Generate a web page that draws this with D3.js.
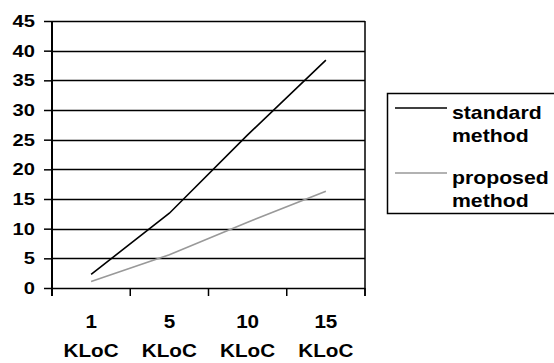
<!DOCTYPE html>
<html>
<head>
<meta charset="utf-8">
<script src="https://cdn.jsdelivr.net/npm/d3@7"></script>
<style>
  html, body { margin: 0; padding: 0; background: #fff; }
  svg { display: block; }
  text { font-family: "Liberation Sans", Arial, sans-serif; font-weight: bold; fill: #000; }
</style>
</head>
<body>
<svg id="chart" width="554" height="363"></svg>
<script>
// Data
const categories = ["1 KLoC", "5 KLoC", "10 KLoC", "15 KLoC"];
const standardMethod = [2.3, 12.6, 25.8, 38.4];
const proposedMethod = [1.1, 5.6, 11.1, 16.3];
const yTicks = [0, 5, 10, 15, 20, 25, 30, 35, 40, 45];
const seriesNames = ["standard method", "proposed method"];
const seriesColors = ["#000000", "#999999"];

const svg = d3.select("#chart");
const plot = { left: 52, right: 365, top: 21, bottom: 288 };
const stretch = 1.2; // wide glyphs

const x = d3.scaleBand().domain(categories).range([plot.left, plot.right]).padding(0);
const y = d3.scaleLinear().domain([0, 45]).range([plot.bottom, plot.top]);

// helper: horizontally stretched text
function label(g, tx, ty, str, size, anchor, sx = stretch) {
  return g.append("text")
    .attr("transform", `translate(${tx},${ty}) scale(${sx},1)`)
    .attr("text-anchor", anchor)
    .style("font-size", size + "px")
    .text(str);
}

// Horizontal gridlines
svg.append("g").selectAll("line").data(yTicks).join("line")
  .attr("x1", plot.left).attr("x2", plot.right)
  .attr("y1", d => Math.round(y(d)) + 0.5).attr("y2", d => Math.round(y(d)) + 0.5)
  .attr("stroke", "#000").attr("stroke-width", 1.5);

// Right border of plot area
svg.append("line")
  .attr("x1", plot.right).attr("x2", plot.right)
  .attr("y1", plot.top).attr("y2", plot.bottom + 8)
  .attr("stroke", "#000").attr("stroke-width", 1.5);

// Y axis
const yAxis = d3.axisLeft(y).tickValues(yTicks).tickSize(8).tickFormat("");
const yg = svg.append("g").attr("transform", `translate(${plot.left},0)`).call(yAxis);
yg.select(".domain").remove();
yg.selectAll(".tick line").attr("stroke", "#000").attr("stroke-width", 1.5);
svg.append("line")
  .attr("x1", plot.left).attr("x2", plot.left)
  .attr("y1", plot.top).attr("y2", plot.bottom + 8)
  .attr("stroke", "#000").attr("stroke-width", 2);

const ylab = svg.append("g");
yTicks.forEach(t => label(ylab, 35, y(t) + 6, String(t), 16.5, "end", 1.22));

// X axis tick marks at category boundaries
const xBounds = categories.map(c => x(c)).concat([plot.right]);
svg.append("g").selectAll("line").data(xBounds).join("line")
  .attr("x1", d => d).attr("x2", d => d)
  .attr("y1", plot.bottom).attr("y2", plot.bottom + 8)
  .attr("stroke", "#000").attr("stroke-width", 1.5);

// X labels (two lines)
const xlab = svg.append("g");
categories.forEach(c => {
  const cx = x(c) + x.bandwidth() / 2;
  const parts = c.split(" ");
  label(xlab, cx, 327.5, parts[0], 17.5, "middle", 1.18);
  label(xlab, cx, 356.5, parts[1], 17.5, "middle", 1.18);
});

// Series lines
const line = d3.line()
  .x((d, i) => x(categories[i]) + x.bandwidth() / 2)
  .y(d => y(d));

[proposedMethod, standardMethod].forEach((vals, k) => {
  svg.append("path")
    .datum(vals)
    .attr("fill", "none")
    .attr("stroke", k === 0 ? seriesColors[1] : seriesColors[0])
    .attr("stroke-width", 1.6)
    .attr("d", line);
});

// Legend
const lg = svg.append("g");
lg.append("rect")
  .attr("x", 387.5).attr("y", 93.5).attr("width", 180).attr("height", 120)
  .attr("fill", "#fff").attr("stroke", "#000").attr("stroke-width", 1.5);

const entryY = [108, 173];
seriesNames.forEach((name, i) => {
  lg.append("line")
    .attr("x1", 395).attr("x2", 447)
    .attr("y1", entryY[i]).attr("y2", entryY[i])
    .attr("stroke", seriesColors[i]).attr("stroke-width", 1.6);
  const words = name.split(" ");
  label(lg, 452, entryY[i] + 11, words[0], 18, "start", 1.18);
  label(lg, 452, entryY[i] + 34, words[1], 18, "start", 1.18);
});
</script>
</body>
</html>
